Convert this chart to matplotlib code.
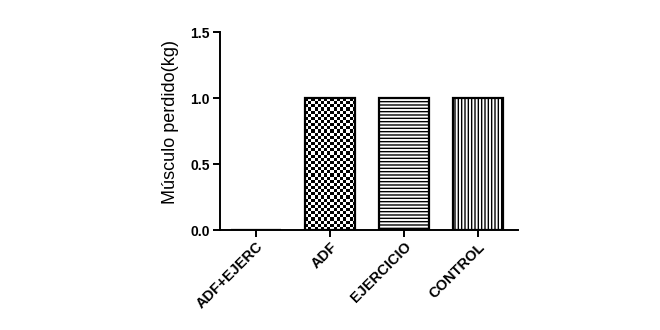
import numpy as np
import matplotlib.pyplot as plt

plt.rcParams['font.family'] = ['Liberation Sans', 'DejaVu Sans']
plt.rcParams['hatch.linewidth'] = 1.0

# data
grupos = ['ADF+EJERC', 'ADF', 'EJERCICIO', 'CONTROL']
musculo = [0.0, 1.0, 1.0, 1.0]
tramas = [None, 'checker', '-----', '|||||']

fig = plt.figure(figsize=(6.6, 3.3), dpi=100)
ax = fig.add_axes([0.333, 0.303, 0.452, 0.600])

x = np.arange(len(grupos))
bars = ax.bar(x, musculo, width=0.68, color='white', edgecolor='black',
              linewidth=1.6, zorder=3)

for b, t in zip(bars, tramas):
    if t is None:
        continue
    if t == 'checker':
        # checkerboard fill clipped to the bar
        b.set_facecolor('none')
        nx, ny = 16, 42
        cb = (np.indices((ny, nx)).sum(axis=0) % 2).astype(float)
        im = ax.imshow(cb, cmap='gray', interpolation='nearest', aspect='auto',
                       extent=[b.get_x(), b.get_x() + b.get_width(), 0, b.get_height()],
                       zorder=2)
        im.set_clip_path(b)
    else:
        b.set_hatch(t)

ax.set_xlim(-0.49, 3.54)
ax.set_ylim(0, 1.5)
ax.set_yticks([0.0, 0.5, 1.0, 1.5])
ax.set_yticklabels(['0.0', '0.5', '1.0', '1.5'], fontweight='bold', fontsize=10)
ax.set_xticks(x)
ax.set_xticklabels(grupos, rotation=45, ha='right', rotation_mode='anchor',
                   fontweight='bold', fontsize=10.5)
ax.set_ylabel('Músculo perdido(kg)', fontsize=13)
ax.yaxis.set_label_coords(-0.138, 0.545)

for s in ['top', 'right']:
    ax.spines[s].set_visible(False)
for s in ['left', 'bottom']:
    ax.spines[s].set_linewidth(1.4)
ax.tick_params(direction='out', length=5, width=1.4, pad=2)

fig.savefig('out.png', dpi=100)
